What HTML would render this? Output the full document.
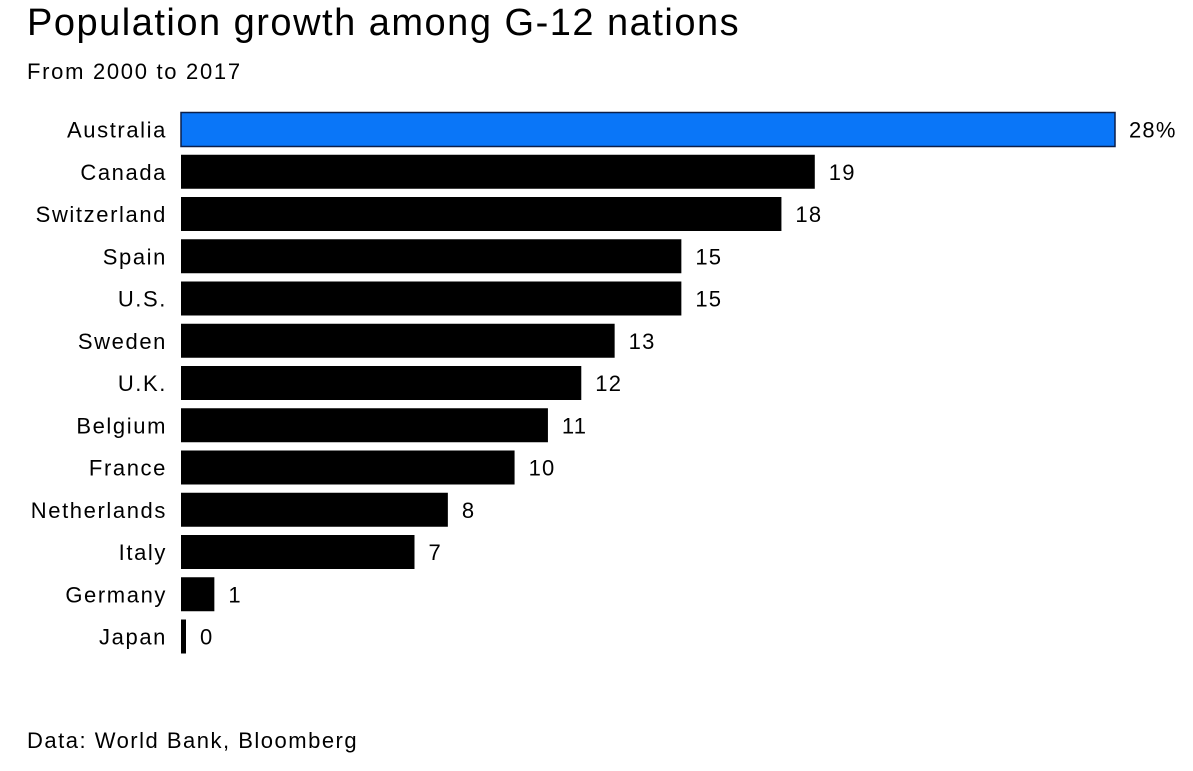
<!DOCTYPE html>
<html><head><meta charset="utf-8"><style>
body{margin:0;background:#fff;font-family:"Liberation Sans",sans-serif;}
#wrap{position:relative;width:1193px;height:771px;overflow:hidden}
.t{position:absolute;white-space:nowrap;color:#000}
</style></head><body>
<div id="wrap">
<div class="t" style="left:27px;top:2px;font-size:38px;letter-spacing:1.5px">Population growth among G-12 nations</div>
<div class="t" style="left:27px;top:59px;font-size:22px;letter-spacing:1.7px">From 2000 to 2017</div>
<svg id="svg" width="1193" height="771" style="position:absolute;left:0;top:0"></svg>
<div class="t" style="left:27px;top:728px;font-size:22px;letter-spacing:1.5px">Data: World Bank, Bloomberg</div>
</div>
<script>
const categories=["Australia","Canada","Switzerland","Spain","U.S.","Sweden","U.K.","Belgium","France","Netherlands","Italy","Germany","Japan"];
const values=[28,19,18,15,15,13,12,11,10,8,7,1,0];
const valueLabels=["28%","19","18","15","15","13","12","11","10","8","7","1","0"];
const NS="http://www.w3.org/2000/svg";
const svg=document.getElementById("svg");
const x0=181,scale=(1115-181)/28;
function xs(v){return x0+v*scale;}
function ys(i){return 112.5+i*42.25;}
const bh=34;
categories.forEach((c,i)=>{
  const y=ys(i);
  const w=Math.max(xs(values[i])-x0,5);
  const r=document.createElementNS(NS,"rect");
  r.setAttribute("x",x0);r.setAttribute("y",y);r.setAttribute("width",w);r.setAttribute("height",bh);
  if(i===0){r.setAttribute("fill","#0a76f8");r.setAttribute("stroke","#0b1f4a");r.setAttribute("stroke-width","1.5");}
  else r.setAttribute("fill","#000");
  
  
  svg.appendChild(r);
  const l=document.createElementNS(NS,"text");
  l.setAttribute("x",167);l.setAttribute("y",y+bh/2+8);l.setAttribute("text-anchor","end");
  l.setAttribute("font-size","22");l.setAttribute("font-family","Liberation Sans, sans-serif");
  l.setAttribute("letter-spacing","1.6");
  l.textContent=c;
  
  
  svg.appendChild(l);
  const v=document.createElementNS(NS,"text");
  v.setAttribute("x",x0+w+14);v.setAttribute("y",y+bh/2+8);
  v.setAttribute("font-size","22");v.setAttribute("font-family","Liberation Sans, sans-serif");
  v.setAttribute("letter-spacing","1.2");
  v.textContent=valueLabels[i];
  
  
  svg.appendChild(v);
});
</script>
</body></html>
